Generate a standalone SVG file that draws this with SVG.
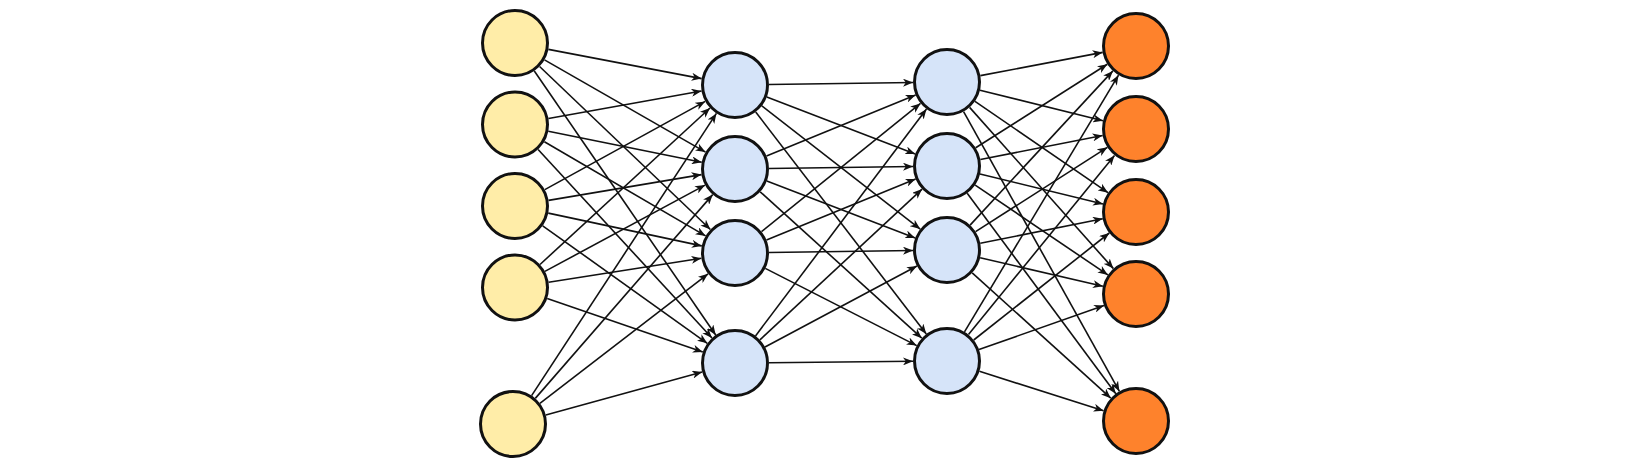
<svg xmlns="http://www.w3.org/2000/svg" width="1650" height="465" viewBox="0 0 1650 465">
<style>
.n circle{stroke:#111;stroke-width:3}
.in circle{fill:#ffeda8}
.hid circle{fill:#d6e4f9}
.out circle{fill:#fe822c}
#edges path{fill:none;stroke:#111;stroke-width:1.6;marker-end:url(#arr)}
</style>
<defs>
<marker id="arr" viewBox="0 0 10 8" markerWidth="10" markerHeight="8" refX="10" refY="4" orient="auto" markerUnits="userSpaceOnUse">
<path d="M0,0 L10,4 L0,8 L2.8,4 Z" fill="#111"/>
</marker>
</defs>
<rect width="1650" height="465" fill="#fff"/>
<g id="edges">
<path d="M548.4,49.4 L701.6,78.6"/>
<path d="M544.5,59.9 L705.5,152.1"/>
<path d="M539.6,66.5 L710.4,229.5"/>
<path d="M534.3,71.0 L715.7,335.0"/>
<path d="M548.5,118.5 L701.5,91.0"/>
<path d="M548.3,131.2 L701.7,162.3"/>
<path d="M544.4,141.7 L705.6,235.9"/>
<path d="M538.1,149.5 L712.0,338.0"/>
<path d="M544.8,189.6 L705.2,101.4"/>
<path d="M548.5,200.4 L701.5,174.6"/>
<path d="M548.3,213.1 L701.8,245.9"/>
<path d="M542.7,225.8 L707.3,343.3"/>
<path d="M540.0,264.5 L710.0,108.0"/>
<path d="M544.9,271.4 L705.1,185.1"/>
<path d="M548.6,282.2 L701.4,258.3"/>
<path d="M547.2,298.5 L702.8,352.0"/>
<path d="M531.6,395.6 L716.4,113.4"/>
<path d="M535.3,398.4 L712.7,194.6"/>
<path d="M539.9,403.3 L708.1,273.8"/>
<path d="M545.8,415.0 L702.2,372.0"/>
<path d="M769.0,84.5 L913.0,82.5"/>
<path d="M766.8,97.1 L915.2,153.9"/>
<path d="M761.8,105.9 L920.2,229.1"/>
<path d="M755.7,112.0 L926.3,334.0"/>
<path d="M766.5,156.1 L915.6,94.9"/>
<path d="M769.0,168.5 L913.0,166.5"/>
<path d="M766.8,181.1 L915.2,237.9"/>
<path d="M760.2,191.8 L921.8,338.2"/>
<path d="M761.5,231.7 L920.5,103.4"/>
<path d="M766.5,240.1 L915.6,178.9"/>
<path d="M769.0,252.5 L913.0,250.5"/>
<path d="M765.3,268.4 L916.7,345.6"/>
<path d="M755.5,335.9 L926.5,109.1"/>
<path d="M759.9,339.9 L922.1,189.1"/>
<path d="M765.0,347.0 L917.0,266.0"/>
<path d="M769.0,362.7 L913.0,361.3"/>
<path d="M980.4,75.6 L1102.6,52.4"/>
<path d="M980.0,90.2 L1103.0,120.8"/>
<path d="M975.0,101.3 L1108.0,192.7"/>
<path d="M969.6,107.4 L1113.4,268.6"/>
<path d="M963.6,111.7 L1119.4,391.3"/>
<path d="M975.7,147.8 L1107.3,64.2"/>
<path d="M980.4,159.5 L1102.6,135.5"/>
<path d="M980.0,174.0 L1103.0,204.0"/>
<path d="M975.2,185.1 L1107.9,274.9"/>
<path d="M967.2,193.3 L1115.8,393.7"/>
<path d="M970.1,225.1 L1112.9,70.9"/>
<path d="M975.6,231.7 L1107.4,147.3"/>
<path d="M980.3,243.3 L1102.7,218.7"/>
<path d="M980.1,257.7 L1102.9,286.3"/>
<path d="M972.2,272.8 L1110.8,398.2"/>
<path d="M964.5,331.8 L1118.5,75.2"/>
<path d="M968.5,334.6 L1114.5,155.4"/>
<path d="M973.7,340.0 L1109.3,233.0"/>
<path d="M979.0,349.6 L1104.0,305.4"/>
<path d="M979.4,371.3 L1103.6,410.7"/>
</g>
<g id="in1" class="n in"><circle cx="515" cy="43" r="32.5"/></g>
<g id="in2" class="n in"><circle cx="515" cy="124.5" r="32.5"/></g>
<g id="in3" class="n in"><circle cx="515" cy="206" r="32.5"/></g>
<g id="in4" class="n in"><circle cx="515" cy="287.5" r="32.5"/></g>
<g id="in5" class="n in"><circle cx="513" cy="424" r="32.5"/></g>
<g id="h1a" class="n hid"><circle cx="735" cy="85" r="32.5"/></g>
<g id="h1b" class="n hid"><circle cx="735" cy="169" r="32.5"/></g>
<g id="h1c" class="n hid"><circle cx="735" cy="253" r="32.5"/></g>
<g id="h1d" class="n hid"><circle cx="735" cy="363" r="32.5"/></g>
<g id="h2a" class="n hid"><circle cx="947" cy="82" r="32.5"/></g>
<g id="h2b" class="n hid"><circle cx="947" cy="166" r="32.5"/></g>
<g id="h2c" class="n hid"><circle cx="947" cy="250" r="32.5"/></g>
<g id="h2d" class="n hid"><circle cx="947" cy="361" r="32.5"/></g>
<g id="out1" class="n out"><circle cx="1136" cy="46" r="32.5"/></g>
<g id="out2" class="n out"><circle cx="1136" cy="129" r="32.5"/></g>
<g id="out3" class="n out"><circle cx="1136" cy="212" r="32.5"/></g>
<g id="out4" class="n out"><circle cx="1136" cy="294" r="32.5"/></g>
<g id="out5" class="n out"><circle cx="1136" cy="421" r="32.5"/></g>
</svg>
